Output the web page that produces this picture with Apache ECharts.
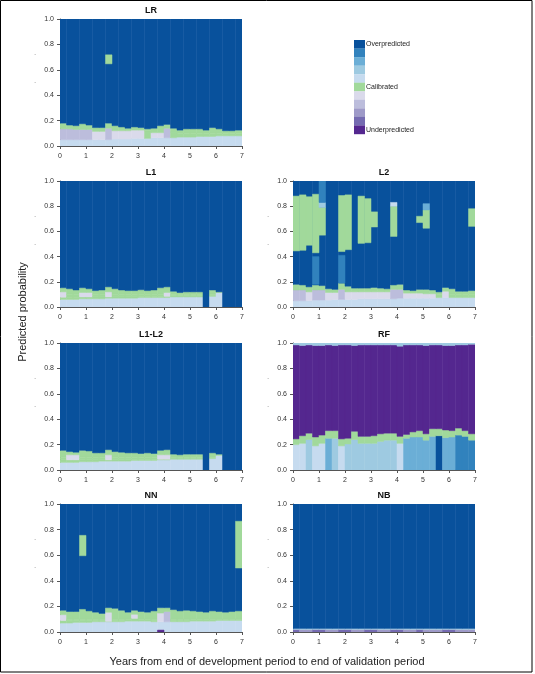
<!DOCTYPE html>
<html><head><meta charset="utf-8">
<script src="https://cdn.jsdelivr.net/npm/echarts@6/dist/echarts.min.js"></script>
<style>html,body{margin:0;padding:0;background:#fff}#c{width:535px;height:674px}</style>
</head><body><div id="c"></div>
<script>
// colour classes: 0 = most overpredicted ... 5 = calibrated ... 10 = most underpredicted
const palette = ['#08519c','#3182bd','#6baed6','#9ecae1','#c6dbef','#a1d99b','#dadaeb','#bcbddc','#9e9ac8','#756bb1','#54278f'];
const legendLabels = {0:'Overpredicted', 5:'Calibrated', 10:'Underpredicted'};
const binYears = 0.25; // each column is one quarter of a year
const yAxisTitle = 'Predicted probability';
const xAxisTitle = 'Years from end of development period to end of validation period';

// ---- LR ----
const lrBase = [0.05,0.05,0.05,0.05,0.05,0.05,0.05,0.05,0.055,0.055,0.055,0.06,0.06,0.06,0.065,0.065,0.065,0.065,0.07,0.07,0.07,0.075,0.075,0.075,0.08,0.08,0.08,0.08];
const lrMid = [0.135,0.135,0.13,0.13,0.13,0.115,0.115,0.14,0.12,0.12,0.12,0.125,0.125,0.12,0.105,0.105,0.14,0.11,0.1,0.1,0.1,0.1,0.1,0.1,0.1,0.1,0.1,0.1];
const lrMidCode = [7,7,7,7,7,6,6,7,6,6,6,6,6,5,6,6,7,5,5,5,5,5,5,5,5,5,5,5];
const lrTop = [0.18,0.165,0.16,0.175,0.165,0.145,0.145,0.18,0.16,0.15,0.14,0.15,0.145,0.135,0.14,0.16,0.17,0.14,0.125,0.135,0.135,0.135,0.125,0.145,0.135,0.12,0.12,0.125];
const lrExtra = [[7,0.647,0.718,5]];

// ---- L1 ----
const l1Base = [0.06,0.06,0.06,0.065,0.065,0.065,0.065,0.07,0.07,0.07,0.07,0.07,0.075,0.075,0.075,0.075,0.075,0.08,0.08,0.08,0.08,0.08,0,0.085,0.115,0,0,0];
const l1Low = [0.078,0.078,0.078,0.08,0.08,0.08,0.08,0.08,0.08,0.08,0.08,0.08,0.085,0.085,0.085,0.085,0.085,0.09,0.09,0.09,0.09,0.09,0,0.09,0.115,0,0,0];
const l1Mid = [0.12,0.1,0.1,0.115,0.115,0.1,0.1,0.12,0.1,0.1,0.1,0.1,0.1,0.1,0.1,0.1,0.115,0.1,0.1,0.1,0.1,0.1,0,0.1,0.115,0,0,0];
const l1MidCode = [6,5,5,6,6,5,5,6,5,5,5,5,5,5,5,5,6,5,5,5,5,5,5,5,5,5,5,5];
const l1Top = [0.153,0.145,0.135,0.153,0.145,0.13,0.135,0.16,0.145,0.135,0.13,0.13,0.137,0.13,0.135,0.153,0.16,0.125,0.115,0.12,0.12,0.12,0,0.135,0.12,0,0,0];

// ---- L2 ----
const l2Base = [0.05,0.05,0.05,0.055,0.055,0.055,0.06,0.06,0.06,0.06,0.065,0.065,0.065,0.065,0.065,0.065,0.07,0.07,0.07,0.07,0.07,0.07,0.075,0.075,0.075,0.075,0.075,0.075];
const l2Mid = [0.135,0.135,0.12,0.135,0.135,0.115,0.115,0.14,0.12,0.12,0.12,0.12,0.12,0.12,0.12,0.14,0.14,0.11,0.11,0.11,0.105,0.105,0.1,0.125,0.1,0.1,0.1,0.1];
const l2MidCode = [7,7,6,7,7,6,6,7,6,6,6,6,6,6,6,7,7,6,6,6,6,6,5,6,5,5,5,5];
const l2Top = [0.18,0.175,0.16,0.175,0.17,0.145,0.14,0.19,0.165,0.15,0.15,0.15,0.155,0.15,0.145,0.175,0.18,0.135,0.13,0.14,0.14,0.135,0.12,0.155,0.145,0.125,0.125,0.13];
const l2Extra = [[0,0.445,0.88,5],[1,0.45,0.89,5],[2,0.49,0.875,5],[3,0.43,0.895,5],[3,0.18,0.40,1],[4,0.57,0.79,5],[4,0.79,0.83,3],[4,0.83,1.0,1],[7,0.44,0.885,5],[7,0.19,0.41,1],[8,0.455,0.89,5],[10,0.505,0.88,5],[11,0.51,0.86,5],[12,0.635,0.755,5],[15,0.56,0.80,5],[15,0.80,0.83,4],[19,0.67,0.72,5],[20,0.625,0.77,5],[20,0.77,0.82,2],[27,0.64,0.78,5]];

// ---- L1-L2 ----
const l12Base = [0.06,0.06,0.06,0.065,0.065,0.065,0.07,0.07,0.07,0.07,0.07,0.075,0.075,0.075,0.075,0.08,0.08,0.085,0.085,0.085,0.085,0.085,0,0.09,0.115,0,0,0];
const l12Low = [0.08,0.08,0.08,0.08,0.08,0.08,0.08,0.08,0.08,0.08,0.08,0.085,0.085,0.085,0.085,0.085,0.085,0.09,0.09,0.09,0.09,0.09,0,0.09,0.115,0,0,0];
const l12Mid = [0.1,0.12,0.12,0.1,0.1,0.1,0.1,0.12,0.1,0.1,0.1,0.1,0.1,0.1,0.1,0.12,0.12,0.1,0.1,0.1,0.1,0.1,0,0.1,0.115,0,0,0];
const l12MidCode = [5,6,6,5,5,5,5,6,5,5,5,5,5,5,5,6,6,5,5,5,5,5,5,5,5,5,5,5];
const l12Top = [0.155,0.145,0.14,0.155,0.15,0.135,0.135,0.16,0.145,0.14,0.135,0.135,0.13,0.135,0.13,0.155,0.16,0.125,0.12,0.125,0.125,0.125,0,0.135,0.125,0,0,0];

// ---- RF ----
const rfBase = [0.20,0.21,0.24,0.19,0.21,0.25,0.25,0.19,0.205,0.24,0.21,0.21,0.21,0.225,0.235,0.235,0.21,0.25,0.26,0.26,0.235,0.265,0.27,0.255,0.26,0.275,0.265,0.235];
const rfBaseCode = [4,4,3,4,4,2,3,4,3,3,3,3,3,3,3,3,4,2,2,2,2,2,0,2,2,1,1,1];
const rfGreen = [0.245,0.27,0.29,0.26,0.275,0.31,0.31,0.245,0.25,0.305,0.265,0.265,0.27,0.285,0.29,0.29,0.265,0.28,0.30,0.31,0.285,0.325,0.325,0.315,0.31,0.33,0.31,0.285];
const rfPurple = [0.985,0.98,0.985,0.98,0.98,0.985,0.98,0.985,0.985,0.98,0.985,0.985,0.985,0.985,0.985,0.985,0.975,0.985,0.985,0.985,0.98,0.985,0.985,0.98,0.98,0.985,0.985,0.99];

// ---- NN ----
const nnBase = [0.07,0.07,0.075,0.075,0.075,0.08,0.08,0.08,0.08,0.08,0.085,0.085,0.085,0.085,0.08,0.08,0.08,0.08,0.08,0.08,0.085,0.085,0.085,0.085,0.09,0.09,0.09,0.09];
const nnLow = [0.09,0.09,0.09,0.09,0.09,0.09,0.09,0.083,0.09,0.09,0.1,0.107,0.1,0.1,0.09,0.08,0.08,0.09,0.09,0.09,0.1,0.1,0.1,0.1,0.1,0.1,0.1,0.1];
const nnMid = [0.135,0.1,0.1,0.1,0.1,0.1,0.1,0.154,0.1,0.1,0.1,0.138,0.1,0.1,0.1,0.148,0.16,0.1,0.1,0.1,0.1,0.1,0.1,0.1,0.1,0.1,0.1,0.1];
const nnMidCode = [6,5,5,5,5,5,5,6,5,5,5,6,5,5,5,6,7,5,5,5,5,5,5,5,5,5,5,5];
const nnTop = [0.17,0.16,0.16,0.18,0.165,0.155,0.145,0.19,0.185,0.17,0.155,0.17,0.16,0.155,0.165,0.19,0.19,0.175,0.165,0.17,0.165,0.16,0.155,0.165,0.16,0.155,0.16,0.165];
const nnExtra = [[3,0.596,0.755,5],[27,0.5,0.865,5],[15,0,0.015,10]];

// ---- NB ----
const nbBase = [0.02,0.02,0.02,0.02,0.02,0.02,0.02,0.02,0.02,0.02,0.02,0.02,0.02,0.02,0.02,0.02,0.02,0.02,0.02,0.02,0.02,0.02,0.02,0.02,0.02,0.02,0.02,0.02];
const nbBaseCode = [9,8,8,9,9,8,8,9,9,8,8,9,9,8,8,9,9,8,8,9,8,8,8,9,9,8,8,8];
const nbStrip = [0.028,0.028,0.028,0.028,0.028,0.028,0.028,0.028,0.028,0.028,0.028,0.028,0.028,0.028,0.028,0.028,0.028,0.028,0.028,0.028,0.028,0.028,0.028,0.028,0.028,0.028,0.028,0.028];

function buildSegments(layers, topCode, extras) {
  const out = [];
  const n = layers[0][0].length;
  for (let i = 0; i < n; i++) {
    const x0 = i * binYears, x1 = (i + 1) * binYears;
    let y0 = 0;
    for (const [tops, codes] of layers) {
      const y1 = tops[i];
      const code = Array.isArray(codes) ? codes[i] : codes;
      if (y1 > y0) { out.push([x0, x1, y0, y1, code]); y0 = y1; }
    }
    const tc = Array.isArray(topCode) ? topCode[i] : topCode;
    if (y0 < 1) out.push([x0, x1, y0, 1, tc]);
  }
  for (const [col, a, b, code] of (extras || [])) out.push([col * binYears, (col + 1) * binYears, a, b, code]);
  return out;
}

const panels = [
  {name:'LR', pos:[60,19,182,127], segs: buildSegments([[lrBase,4],[lrMid,lrMidCode],[lrTop,5]], 0, lrExtra)},
  {name:'L1', pos:[60,181,182,126], segs: buildSegments([[l1Base,4],[l1Low,5],[l1Mid,l1MidCode],[l1Top,5]], 0, [])},
  {name:'L2', pos:[293,181,182,126], segs: buildSegments([[l2Base,4],[l2Mid,l2MidCode],[l2Top,5]], 0, l2Extra)},
  {name:'L1-L2', pos:[60,343,182,127], segs: buildSegments([[l12Base,4],[l12Low,5],[l12Mid,l12MidCode],[l12Top,5]], 0, [])},
  {name:'RF', pos:[293,343,182,127], segs: buildSegments([[rfBase,rfBaseCode],[rfGreen,5],[rfPurple,10]], 3, [])},
  {name:'NN', pos:[60,504,182,128], segs: buildSegments([[nnBase,4],[nnLow,5],[nnMid,nnMidCode],[nnTop,5]], 0, nnExtra)},
  {name:'NB', pos:[293,504,182,128], segs: buildSegments([[nbBase,nbBaseCode],[nbStrip,3]], 0, [])}
];

const FONT = 'Liberation Sans, Arial, sans-serif';
const axisCommon = {
  axisLine:{show:true, onZero:false, lineStyle:{color:'#555', width:1}},
  axisTick:{show:true, length:3, lineStyle:{color:'#555', width:1}},
  splitLine:{show:false}
};

const grids = [], xAxes = [], yAxes = [], series = [], graphics = [];
panels.forEach((p, k) => {
  const [l, t, w, h] = p.pos;
  grids.push({left:l, top:t, width:w, height:h, containLabel:false});
  xAxes.push(Object.assign({gridIndex:k, type:'value', min:0, max:7, interval:1,
    axisLabel:{fontSize:7, color:'#333', margin:7, fontFamily:FONT}}, axisCommon));
  yAxes.push(Object.assign({gridIndex:k, type:'value', min:0, max:1, interval:0.2,
    axisLabel:{fontSize:7, color:'#333', margin:6, fontFamily:FONT, formatter:v => v.toFixed(1)}}, axisCommon));
  series.push({
    type:'custom', xAxisIndex:k, yAxisIndex:k, silent:true, clip:true,
    encode:{x:[0,1], y:[2,3]},
    data:p.segs,
    renderItem:(params, api) => {
      const a = api.coord([api.value(0), api.value(3)]);
      const b = api.coord([api.value(1), api.value(2)]);
      const c = palette[api.value(4)];
      return {type:'rect', shape:{x:a[0], y:a[1], width:b[0]-a[0], height:b[1]-a[1]},
        style:{fill:c, stroke:c, lineWidth:0.5}};
    }
  });
  graphics.push({type:'text', x:l + w/2, y:t - 8, style:{text:p.name, font:'bold 9px ' + FONT, fill:'#111', align:'center', verticalAlign:'middle'}});
  graphics.push({type:'text', x:l - 25, y:t + 34, style:{text:'.', font:'8px ' + FONT, fill:'#888', align:'center', verticalAlign:'middle'}});
  graphics.push({type:'text', x:l - 25, y:t + 62, style:{text:'.', font:'8px ' + FONT, fill:'#888', align:'center', verticalAlign:'middle'}});
});

// legend colour bar
palette.forEach((c, i) => {
  graphics.push({type:'rect', shape:{x:354, y:40 + i*8.55, width:11, height:8.7}, style:{fill:c}});
  if (legendLabels[i]) graphics.push({type:'text', x:366, y:40 + i*8.55 + 4.5,
    style:{text:legendLabels[i], font:'7px ' + FONT, fill:'#222', align:'left', verticalAlign:'middle'}});
});
graphics.push({type:'text', x:23, y:312, rotation:Math.PI/2,
  style:{text:yAxisTitle, font:'11px ' + FONT, fill:'#222', align:'center', verticalAlign:'middle'}});
graphics.push({type:'text', x:267, y:662,
  style:{text:xAxisTitle, font:'11px ' + FONT, fill:'#222', align:'center', verticalAlign:'middle'}});
graphics.push({type:'rect', shape:{x:0.5, y:0.5, width:531.5, height:671.5}, style:{fill:null, stroke:'#000', lineWidth:1}});

const chart = echarts.init(document.getElementById('c'), null, {renderer:'canvas'});
chart.setOption({animation:false, backgroundColor:'#fff', grid:grids, xAxis:xAxes, yAxis:yAxes, series:series, graphic:graphics});
</script></body></html>
